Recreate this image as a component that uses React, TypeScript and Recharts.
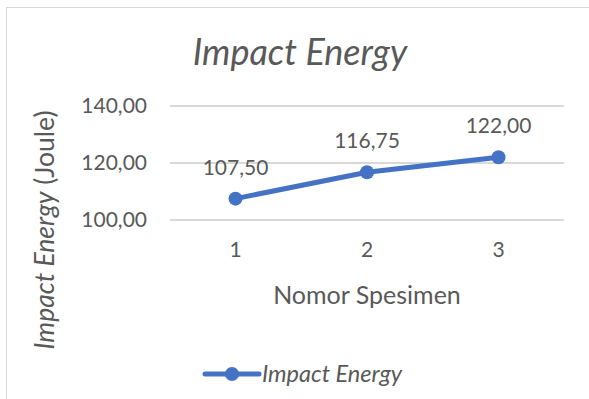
import { LineChart, Line, XAxis, YAxis, CartesianGrid, LabelList } from 'recharts'

const specimens = ['1', '2', '3']
const impactEnergy = [107.5, 116.75, 122.0]
const yTicks = [100, 120, 140]

const data = specimens.map((s, i) => ({ specimen: s, energy: impactEnergy[i] }))

const FONT = 'Lato, "Noto Sans", sans-serif'
const TEXT = '#595959'
const BLUE = '#4472C4'

const fmt = (v: number) => v.toFixed(2).replace('.', ',')

export default function App() {
  return (
    <div
      style={{
        position: 'absolute',
        left: 0,
        top: 0,
        width: 589,
        height: 399,
        background: '#fff',
        overflow: 'hidden',
        fontFamily: FONT,
      }}
    >
      {/* chart area border */}
      <div
        style={{
          position: 'absolute',
          left: 6,
          top: 7,
          width: 620,
          height: 420,
          border: '1.5px solid #d9d9d9',
        }}
      />
      <div
        style={{
          position: 'absolute',
          left: 0,
          width: 600,
          top: 29,
          textAlign: 'center',
          fontSize: 36,
          fontStyle: 'italic',
          color: TEXT,
        }}
      >
        Impact Energy
      </div>
      <div style={{ position: 'absolute', left: 0, top: 0 }}>
        <LineChart
          width={589}
          height={399}
          data={data}
          margin={{ top: 106, right: 25, bottom: 139, left: 0 }}
        >
          <CartesianGrid horizontal vertical={false} stroke="#d9d9d9" strokeWidth={2} />
          <XAxis
            dataKey="specimen"
            axisLine={false}
            tickLine={false}
            tickSize={0}
            tickMargin={22}
            padding={{ left: 65.5, right: 65.5 }}
            tick={{ fill: TEXT, fontSize: 21, fontFamily: FONT }}
            height={40}
          />
          <YAxis
            width={170}
            domain={[100, 140]}
            ticks={yTicks}
            axisLine={false}
            tickLine={false}
            tickSize={0}
            tickMargin={23}
            tickFormatter={fmt}
            tick={{ fill: TEXT, fontSize: 21, fontFamily: FONT }}
          />
          <Line
            dataKey="energy"
            name="Impact Energy"
            stroke={BLUE}
            strokeWidth={5}
            dot={{ r: 7, fill: BLUE, stroke: BLUE, strokeWidth: 0 }}
            isAnimationActive={false}
          >
            <LabelList
              dataKey="energy"
              position="top"
              offset={24}
              formatter={(v: any) => fmt(Number(v))}
              style={{ fill: TEXT, fontSize: 21, fontFamily: FONT }}
            />
          </Line>
        </LineChart>
      </div>
      <svg
        width={589}
        height={399}
        style={{ position: 'absolute', left: 0, top: 0, pointerEvents: 'none' }}
      >
        <text x={367} y={304} textAnchor="middle" fontFamily={FONT} fontSize={25} fill={TEXT}>
          Nomor Spesimen
        </text>
        <text
          transform="rotate(-90)"
          x={-230}
          y={54}
          textAnchor="middle"
          fontFamily={FONT}
          fontSize={26.5}
          fill={TEXT}
        >
          <tspan fontStyle="italic">Impact Energy</tspan>
          <tspan> (Joule)</tspan>
        </text>
        {/* legend */}
        <g transform="translate(205, 374)">
          <line x1={0} y1={0} x2={54} y2={0} stroke={BLUE} strokeWidth={5} strokeLinecap="round" />
          <circle cx={27} cy={0} r={7} fill={BLUE} />
          <text x={57} y={8} fontFamily={FONT} fontStyle="italic" fontSize={23.5} fill={TEXT}>
            Impact Energy
          </text>
        </g>
      </svg>
    </div>
  )
}
